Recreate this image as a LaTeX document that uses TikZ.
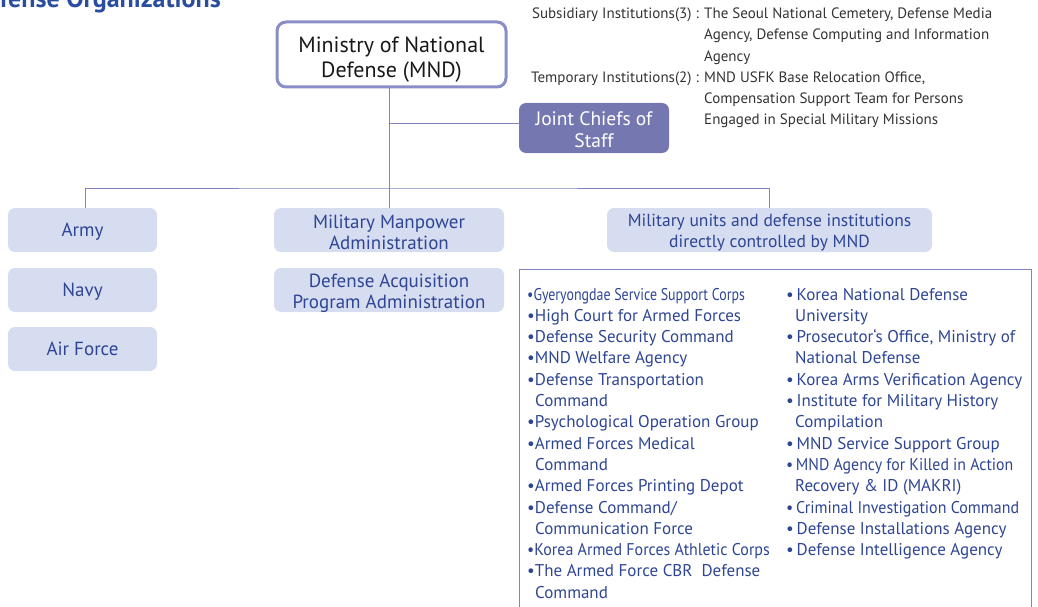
\documentclass[tikz,border=0pt]{standalone}
\usepackage{graphicx}
\usepackage{fontspec}
\setmainfont{PT Sans}
\definecolor{linec}{HTML}{8084BE}
\definecolor{mndborder}{HTML}{8A8EC6}
\definecolor{jcsfill}{HTML}{7577B0}
\definecolor{boxfill}{HTML}{D6DDF0}
\definecolor{boxtext}{HTML}{2E4594}
\definecolor{titlec}{HTML}{2B4DA0}
\definecolor{graytext}{HTML}{333333}
\newcommand\narrowline[2]{\scalebox{#1}[1]{#2}}
\newcommand\lowered[2]{\raisebox{-#1}[\height][\depth]{\begin{tabular}{@{}c@{}}#2\end{tabular}}}
\begin{document}
\begin{tikzpicture}[x=1pt,y=-1pt,
  conn/.style={draw=linec, line width=1pt},
  lbox/.style={fill=boxfill, rounded corners=7pt, text=boxtext, align=center,
    inner sep=0pt, minimum height=44pt, font=\fontsize{19}{21}\selectfont},
  listtext/.style={anchor=base west, inner sep=0pt, text=boxtext, font=\fontsize{17}{21.3}\selectfont},
  notetext/.style={anchor=base west, inner sep=0pt, text=graytext, font=\fontsize{15}{21.3}\selectfont}]
\useasboundingbox (0,0) rectangle (1038,607);
\clip (0,0) rectangle (1038,607);
% title (cut off at the top, as in the reference)
\node[anchor=base east, inner sep=0pt, text=titlec, font=\fontsize{26}{30}\bfseries] (title) at (221,8) {Defense Organizations};
% MND
\node[draw=mndborder, line width=3pt, fill=white, rounded corners=9pt, minimum width=229pt, minimum height=65pt,
  inner sep=0pt, align=center, text=black!90, font=\fontsize{22}{25}\selectfont] (mnd) at (391.5,54.5)
  {\lowered{5.5pt}{Ministry of National\\Defense (MND)}};
% JCS
\node[fill=jcsfill, rounded corners=7pt, minimum width=150pt, minimum height=50pt, inner sep=0pt, align=center,
  text=white, font=\fontsize{19.5}{22}\selectfont] (jcs) at (594,128)
  {\lowered{4pt}{Joint Chiefs of\\Staff}};
% boxes
\node[lbox, minimum width=149pt] (army) at (82.5,230) {\lowered{2pt}{Army}};
\node[lbox, minimum width=149pt] (navy) at (82.5,290) {\lowered{2pt}{Navy}};
\node[lbox, minimum width=149pt] (air) at (82.5,349) {\lowered{2pt}{Air Force}};
\node[lbox, minimum width=230pt] (mma) at (389,230) {\lowered{4.5pt}{Military Manpower\\Administration}};
\node[lbox, minimum width=230pt] (dapa) at (389,290) {\lowered{3.5pt}{Defense Acquisition\\Program Administration}};
\node[lbox, minimum width=325pt, font=\fontsize{17.5}{21}\selectfont] (mu) at (769.5,230)
  {\lowered{3pt}{Military units and defense institutions\\directly controlled by MND}};
% connectors
\coordinate (bus) at (389,188);
\draw[conn] (mnd.south -| mma.north) -- (mma.north);
\draw[conn] ([yshift=4pt]jcs.west -| mma.north) -- ([yshift=4pt]jcs.west);
\draw[conn] ([xshift=2.5pt]army.north) |- (bus) -| (mu.north);
% list box
\draw[conn] (519,269) rectangle (1031,650);
\node[listtext] (col1) at (527,300) {\begin{tabular}[t]{@{}l@{}}
\narrowline{0.82}{•Gyeryongdae Service Support Corps}\\
•High Court for Armed Forces\\
•Defense Security Command\\
•MND Welfare Agency\\
•Defense Transportation\\
\hspace*{8pt}Command\\
•Psychological Operation Group\\
•Armed Forces Medical\\
\hspace*{8pt}Command\\
•Armed Forces Printing Depot\\
•Defense Command/\\
\hspace*{8pt}Communication Force\\
\narrowline{0.94}{•Korea Armed Forces Athletic Corps}\\
•The Armed Force CBR\ \ Defense\\
\hspace*{8pt}Command
\end{tabular}};
\node[listtext] (col2) at (786,300) {\begin{tabular}[t]{@{}l@{}}
•\,Korea National Defense\\
\hspace*{9pt}University\\
•\,Prosecutor\symbol{96}s Office, Ministry of\\
\hspace*{9pt}National Defense\\
•\,Korea Arms Verification Agency\\
•\,Institute for Military History\\
\hspace*{9pt}Compilation\\
•\,MND Service Support Group\\
\narrowline{0.93}{•\,MND Agency for Killed in Action}\\
\hspace*{9pt}Recovery \& ID (MAKRI)\\
\narrowline{0.94}{•\,Criminal Investigation Command}\\
•\,Defense Installations Agency\\
•\,Defense Intelligence Agency
\end{tabular}};
% notes top right
\node[notetext] (notes) at (531,18.5) {\begin{tabular}[t]{@{}r@{ }l@{}}
Subsidiary Institutions(3) : & The Seoul National Cemetery, Defense Media\\
 & Agency, Defense Computing and Information\\
 & Agency\\
Temporary Institutions(2) : & MND USFK Base Relocation Office,\\
 & Compensation Support Team for Persons\\
 & Engaged in Special Military Missions
\end{tabular}};
\end{tikzpicture}
\end{document}
